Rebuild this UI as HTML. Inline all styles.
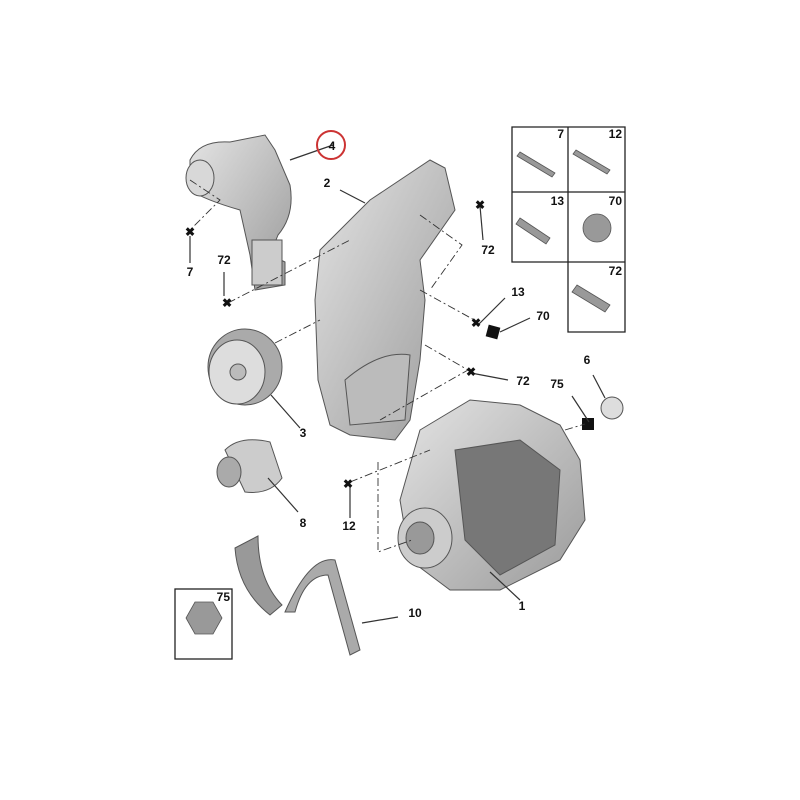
<!DOCTYPE html><html><head><style>body{margin:0;background:#fff}svg{display:block}text{font-family:"Liberation Sans",sans-serif;font-weight:bold;font-size:12px;fill:#111}</style></head><body>
<svg width="800" height="800" viewBox="0 0 800 800">
<defs><linearGradient id="g" x1="0" y1="0" x2="1" y2="1"><stop offset="0" stop-color="#e4e4e4"/><stop offset="1" stop-color="#9a9a9a"/></linearGradient></defs>
<g stroke="#555" stroke-width="1" fill="url(#g)">
<!-- tensioner 4 -->
<path d="M190 160 Q200 140 230 142 L265 135 L275 150 L290 185 Q295 215 278 235 L270 255 L285 262 L285 285 L255 290 L250 255 L240 210 Q205 200 190 190 Z"/>
<ellipse cx="200" cy="178" rx="14" ry="18" fill="#d8d8d8"/>
<rect x="252" y="240" width="30" height="45" fill="#ccc"/>
<!-- bracket 2 -->
<path d="M320 250 L370 200 L430 160 L445 168 L455 210 L420 260 L425 300 L420 360 L410 420 L395 440 L350 435 L330 425 L318 380 L315 300 Z"/>
<path d="M345 380 Q380 350 410 355 L405 420 L350 425 Z" fill="#bbb"/>
<!-- pulley 3 -->
<ellipse cx="245" cy="367" rx="37" ry="38" fill="#aaa"/>
<ellipse cx="237" cy="372" rx="28" ry="32" fill="#ddd"/>
<circle cx="238" cy="372" r="8" fill="#bbb"/>
<!-- 8 -->
<path d="M225 450 Q240 435 270 442 L282 478 Q270 495 245 492 Z" fill="#ccc"/>
<ellipse cx="229" cy="472" rx="12" ry="15" fill="#aaa"/>
<!-- belt 10 -->
<path d="M235 548 L258 536 Q258 580 282 605 L270 615 Q238 590 235 548 Z" fill="#999"/>
<path d="M285 612 Q310 555 335 560 L360 650 L350 655 L328 575 Q305 575 295 612 Z" fill="#aaa"/>
<!-- alternator 1 -->
<path d="M420 430 L470 400 L520 405 L560 425 L580 460 L585 520 L560 560 L500 590 L450 590 L410 560 L400 500 Z"/>
<ellipse cx="425" cy="538" rx="27" ry="30" fill="#ccc"/>
<ellipse cx="420" cy="538" rx="14" ry="16" fill="#999"/>
<path d="M455 450 L520 440 L560 470 L555 545 L500 575 L465 540 Z" fill="#777"/>
<!-- 6 ball -->
<circle cx="612" cy="408" r="11" fill="#ddd"/>
<rect x="582" y="418" width="12" height="12" fill="#111" stroke="none"/>
<rect x="487" y="326" width="12" height="12" fill="#111" stroke="none" transform="rotate(15 493 332)"/>
</g>
<g stroke="#333" stroke-width="1.2" fill="none">
<path d="M290 160 L333 145"/><path d="M340 190 L365 203"/><path d="M271 395 L300 428"/><path d="M268 478 L298 512"/><path d="M490 572 L520 600"/><path d="M362 623 L398 617"/><path d="M190 236 L190 263"/><path d="M224 272 L224 296"/><path d="M350 487 L350 518"/><path d="M480 206 L483 240"/><path d="M478 325 L505 298"/><path d="M500 332 L530 318"/><path d="M471 373 L508 380"/><path d="M589 422 L572 396"/><path d="M605 398 L593 375"/>
</g>
<g stroke="#333" stroke-width="0.9" fill="none" stroke-dasharray="8 3 2 3">
<path d="M190 180 L220 200 L190 230"/><path d="M228 303 L350 240"/><path d="M275 343 L320 320"/><path d="M420 215 L462 245 L430 290"/><path d="M420 290 L478 322"/><path d="M425 345 L468 370 L380 420"/><path d="M378 462 L378 552 L412 540"/><path d="M350 482 L430 450"/><path d="M565 430 L585 424"/>
</g>
<circle cx="331" cy="145" r="14" fill="none" stroke="#c33" stroke-width="2"/>
<g font-size="16" font-weight="bold" fill="#111" text-anchor="middle">
<text x="332" y="150">4</text><text x="327" y="187">2</text><text x="190" y="276">7</text><text x="224" y="264">72</text><text x="488" y="254">72</text><text x="518" y="296">13</text><text x="543" y="320">70</text><text x="523" y="385">72</text><text x="587" y="364">6</text><text x="557" y="388">75</text><text x="303" y="437">3</text><text x="303" y="527">8</text><text x="349" y="530">12</text><text x="415" y="617">10</text><text x="522" y="610">1</text>
</g>
<g fill="#111" font-size="14" text-anchor="middle"><text x="190" y="236">✖</text><text x="227" y="307">✖</text><text x="480" y="209">✖</text><text x="476" y="327">✖</text><text x="471" y="376">✖</text><text x="348" y="488">✖</text></g>
<!-- table -->
<g stroke="#222" stroke-width="1.3" fill="none">
<path d="M512 127 H625 V332 H568 V262 H512 Z M568 127 V332 M512 192 H625 M512 262 H625"/>
<rect x="175" y="589" width="57" height="70"/>
</g>
<g fill="#999" stroke="#555" stroke-width="0.8">
<path d="M520 152 L555 173 L552 177 L517 156 Z"/><path d="M576 150 L610 170 L607 174 L573 154 Z"/>
<path d="M520 218 L550 238 L546 244 L516 224 Z"/><circle cx="597" cy="228" r="14"/>
<path d="M577 285 L610 305 L605 312 L572 292 Z"/>
<polygon points="195,602 213,602 222,618 213,634 195,634 186,618"/>
</g>
<g text-anchor="end"><text x="564" y="138">7</text><text x="622" y="138">12</text><text x="564" y="205">13</text><text x="622" y="205">70</text><text x="622" y="275">72</text><text x="230" y="601">75</text></g>
</svg></body></html>
